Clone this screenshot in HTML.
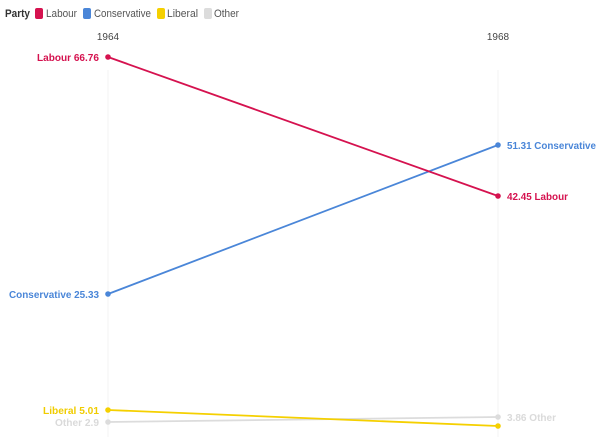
<!DOCTYPE html>
<html><head><meta charset="utf-8"><style>
html,body{margin:0;padding:0;background:#fff;}
svg{display:block;font-family:"Liberation Sans",sans-serif;}
</style></head><body>
<svg width="601" height="437" viewBox="0 0 601 437" xmlns="http://www.w3.org/2000/svg">
<rect width="601" height="437" fill="#fff"/>
<!-- legend -->
<text x="5" y="17" font-size="11" font-weight="bold" fill="#333" textLength="25" lengthAdjust="spacingAndGlyphs">Party</text>
<rect x="35" y="8" width="8" height="11" rx="2" fill="#d5124f"/>
<text x="46" y="17" font-size="11" fill="#555" textLength="31" lengthAdjust="spacingAndGlyphs">Labour</text>
<rect x="83" y="8" width="8" height="11" rx="2" fill="#4a86d8"/>
<text x="94" y="17" font-size="11" fill="#555" textLength="57" lengthAdjust="spacingAndGlyphs">Conservative</text>
<rect x="157" y="8" width="8" height="11" rx="2" fill="#f5d000"/>
<text x="167" y="17" font-size="11" fill="#555" textLength="31" lengthAdjust="spacingAndGlyphs">Liberal</text>
<rect x="204" y="8" width="8" height="11" rx="2" fill="#dcdcdc"/>
<text x="214" y="17" font-size="11" fill="#555" textLength="25" lengthAdjust="spacingAndGlyphs">Other</text>
<!-- axis labels -->
<text x="108" y="40" font-size="10" fill="#444" text-anchor="middle">1964</text>
<text x="498" y="40" font-size="10" fill="#444" text-anchor="middle">1968</text>
<!-- gridlines -->
<line x1="108" y1="70" x2="108" y2="437" stroke="#f3f3f3" stroke-width="1"/>
<line x1="498" y1="70" x2="498" y2="437" stroke="#f3f3f3" stroke-width="1"/>
<!-- series -->
<line x1="108" y1="422" x2="498" y2="417" stroke="#dcdcdc" stroke-width="1.8"/>
<circle cx="108" cy="422" r="2.8" fill="#dcdcdc"/><circle cx="498" cy="417" r="2.8" fill="#dcdcdc"/>
<line x1="108" y1="410" x2="498" y2="426" stroke="#f5d000" stroke-width="1.8"/>
<circle cx="108" cy="410" r="2.8" fill="#f5d000"/><circle cx="498" cy="426" r="2.8" fill="#f5d000"/>
<line x1="108" y1="294" x2="498" y2="145" stroke="#4a86d8" stroke-width="1.8"/>
<circle cx="108" cy="294" r="2.8" fill="#4a86d8"/><circle cx="498" cy="145" r="2.8" fill="#4a86d8"/>
<line x1="108" y1="57" x2="498" y2="196" stroke="#d5124f" stroke-width="1.8"/>
<circle cx="108" cy="57" r="2.8" fill="#d5124f"/><circle cx="498" cy="196" r="2.8" fill="#d5124f"/>
<!-- left labels -->
<text x="37" y="61" font-size="10" font-weight="bold" fill="#d5124f" textLength="62" lengthAdjust="spacingAndGlyphs">Labour 66.76</text>
<text x="9" y="298" font-size="10" font-weight="bold" fill="#4a86d8" textLength="90" lengthAdjust="spacingAndGlyphs">Conservative 25.33</text>
<text x="43" y="414" font-size="10" font-weight="bold" fill="#f0cc00" textLength="56" lengthAdjust="spacingAndGlyphs">Liberal 5.01</text>
<text x="55" y="426" font-size="10" font-weight="bold" fill="#dadada" textLength="44" lengthAdjust="spacingAndGlyphs">Other 2.9</text>
<!-- right labels -->
<text x="507" y="149" font-size="10" font-weight="bold" fill="#4a86d8" textLength="89" lengthAdjust="spacingAndGlyphs">51.31 Conservative</text>
<text x="507" y="200" font-size="10" font-weight="bold" fill="#d5124f" textLength="61" lengthAdjust="spacingAndGlyphs">42.45 Labour</text>
<text x="507" y="421" font-size="10" font-weight="bold" fill="#dadada" textLength="49" lengthAdjust="spacingAndGlyphs">3.86 Other</text>
</svg>
</body></html>
